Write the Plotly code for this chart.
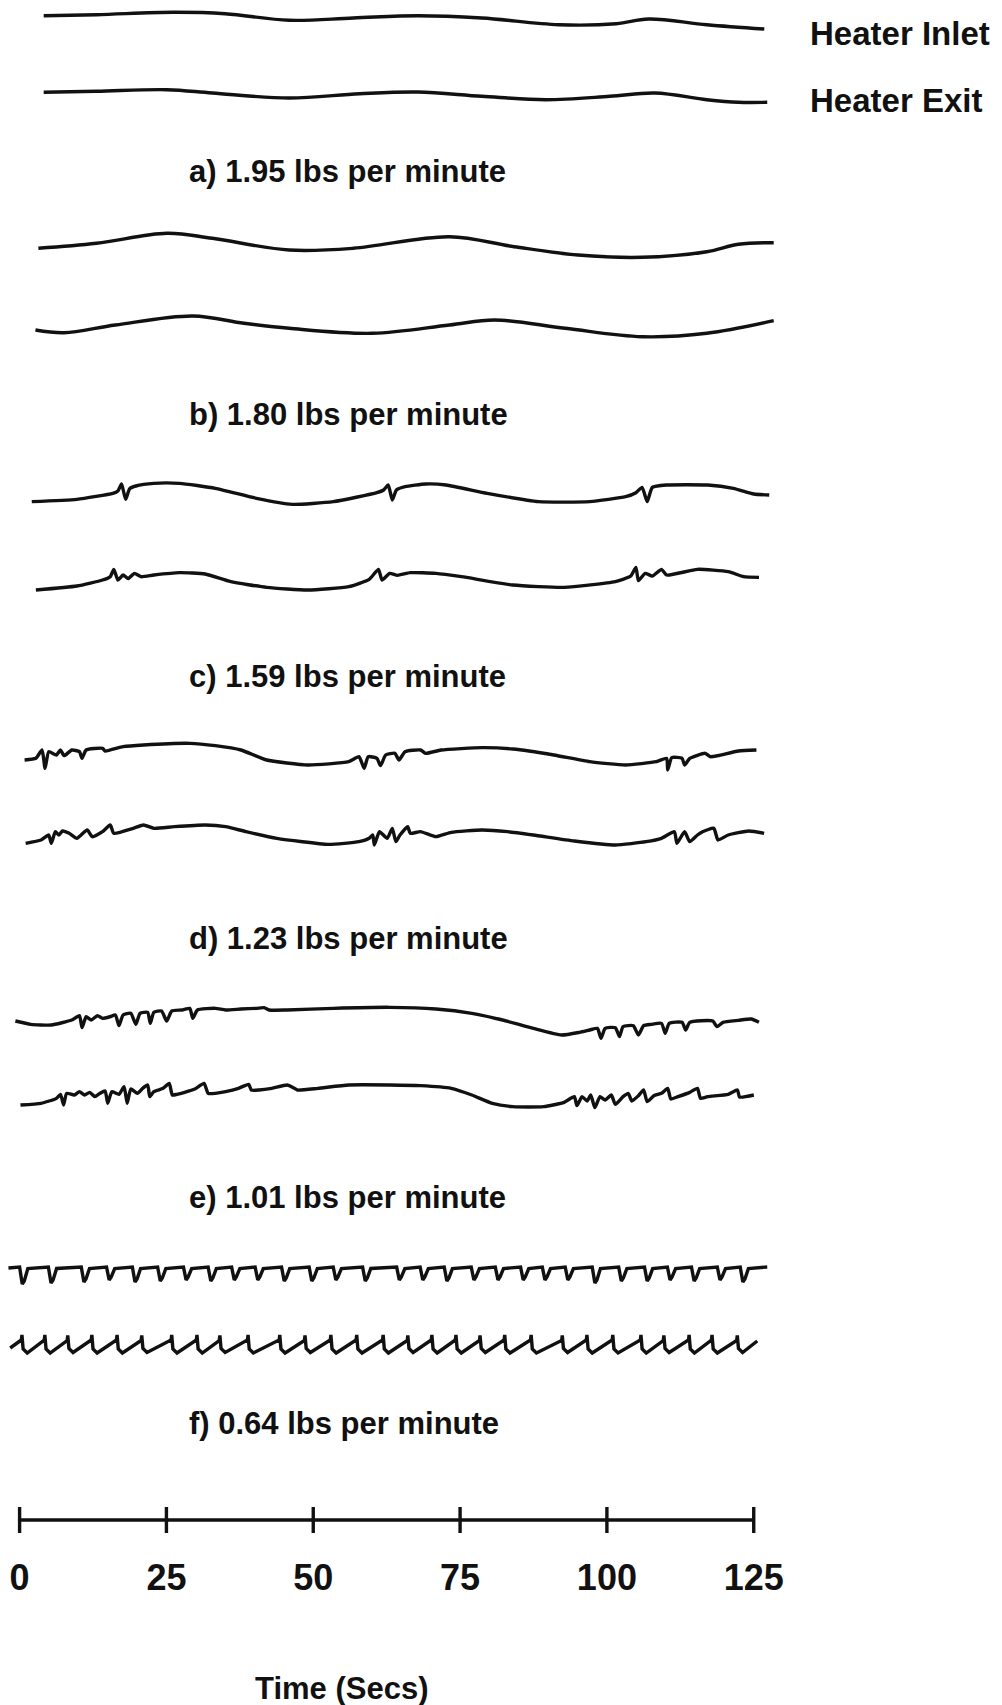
import plotly.graph_objects as go

# ---------------- data (time in seconds, deflection in chart units) ----------------
a1_t = [4.1, 13.1, 26.2, 35.0, 45.9, 56.8, 67.8, 78.7, 91.8, 101.6, 107.1, 117.0, 126.8]
a1_v = [5.3, 6.3, 8.7, 7.3, 0.7, 3.0, 5.3, 3.0, -3.7, -2.7, 2.0, -3.7, -8.0]
a2_t = [4.1, 13.1, 25.1, 32.8, 45.9, 57.9, 67.8, 78.7, 89.6, 100.5, 108.2, 117.0, 122.4, 127.3]
a2_v = [2.7, 3.7, 5.3, 2.0, -3.0, 1.3, 3.0, -1.3, -4.7, -1.3, 2.0, -4.7, -7.3, -7.3]

b1_t = [3.2, 13.1, 25.1, 32.8, 45.9, 56.8, 73.2, 84.2, 95.1, 106.0, 117.0, 122.4, 128.4]
b1_v = [-3.3, 1.7, 11.7, 6.7, -5.0, -3.3, 8.3, -1.7, -10.0, -12.3, -6.7, 0.7, 2.3]
b2_t = [2.7, 7.6, 16.3, 29.5, 38.2, 45.9, 60.1, 73.2, 80.9, 92.9, 106.0, 117.0, 128.4]
b2_v = [-4.0, -6.7, 1.0, 10.0, 2.7, -2.3, -7.3, 1.0, 6.0, -2.3, -10.7, -7.3, 5.3]

c1_t = [2.07, 9.76, 15.87, 16.74, 17.36, 18.05, 18.75, 19.80, 22.86, 27.22, 33.33, 40.32, 46.43,
        53.42, 60.84, 61.98, 62.76, 63.46, 64.16, 65.64, 69.14, 72.63, 79.61, 88.35, 97.08, 103.19,
        104.94, 105.99, 106.86, 107.73, 110.18, 117.16, 121.53, 125.02, 127.64]
c1_v = [-8.67, -6.33, -0.33, 2.0, 9.0, -6.33, 4.33, 7.0, 9.67, 9.67, 4.67, -5.33, -11.33,
        -8.67, 0.33, 3.0, 8.0, -7.0, 3.0, 6.33, 9.0, 8.0, -0.33, -8.67, -8.67, -3.67,
        0.33, 5.67, -8.67, 5.67, 8.0, 8.0, 4.67, -1.0, -2.0]
c2_t = [2.77, 9.76, 14.12, 15.43, 16.05, 16.74, 17.62, 18.49, 19.54, 20.67, 22.86, 27.22, 31.59,
        35.95, 42.07, 49.05, 56.04, 59.53, 61.10, 61.71, 63.02, 64.33, 66.52, 70.88, 75.25, 83.98,
        92.71, 101.44, 104.06, 104.94, 105.37, 106.51, 107.73, 109.30, 110.18, 115.42, 120.66,
        123.28, 125.90]
c2_v = [-11.0, -7.0, -1.0, 2.33, 9.67, -1.0, 4.0, 0.33, 5.67, 2.33, 4.0, 6.33, 5.0,
        -2.67, -8.33, -11.0, -7.67, -0.33, 9.67, -1.0, 5.67, 3.67, 6.33, 5.67, 2.33, -6.0,
        -8.33, -2.67, 3.0, 11.67, -1.67, 5.67, 3.0, 9.67, 4.0, 9.67, 7.33, 2.33, 1.67]

d1_t = [0.85, 2.77, 3.82, 4.34, 4.96, 6.27, 6.96, 7.58, 8.88, 10.19, 10.63, 11.33, 14.12, 14.56,
        17.62, 21.11, 28.97, 33.33, 37.70, 42.07, 49.05, 56.04, 57.79, 58.66, 59.36, 60.84, 61.45,
        62.33, 63.90, 64.60, 65.64, 68.26, 69.14, 71.76, 78.74, 83.98, 90.97, 97.08, 103.19,
        108.43, 110.18, 110.35, 111.05, 112.80, 113.23, 114.11, 116.73, 117.60, 118.91, 122.40,
        125.46]
d1_v = [-3.0, -1.33, 7.0, -11.33, 5.33, 2.0, 7.0, 1.33, 7.0, 5.33, -1.33, 7.0, 8.67, 6.0,
        10.33, 12.0, 13.67, 11.33, 7.0, -3.0, -8.0, -4.67, 0.33, -11.33, 0.33, -1.33, -8.67,
        2.0, 3.67, -3.0, 5.33, 7.0, 3.67, 7.0, 9.33, 8.0, 2.0, -4.67, -8.0,
        -4.67, -1.33, -13.0, -0.67, -1.33, -8.0, -1.33, 3.67, 0.33, 1.33, 6.0,
        7.0]
d2_t = [1.03, 3.65, 4.96, 5.39, 6.09, 6.70, 7.31, 8.45, 9.76, 11.50, 12.38, 14.12, 15.43, 16.05,
        19.36, 21.11, 22.86, 26.35, 31.59, 35.08, 38.57, 43.81, 52.55, 57.79, 59.53, 60.14, 60.40,
        61.28, 62.59, 63.46, 64.07, 64.77, 66.08, 66.52, 68.26, 70.88, 73.50, 78.74, 83.11, 87.47,
        94.46, 101.44, 106.68, 109.30, 111.49, 111.92, 113.23, 114.11, 115.42, 116.29, 118.21,
        118.91, 120.66, 124.15, 126.77]
d2_v = [-8.33, -5.0, 0.0, -8.33, 3.33, 0.0, 4.0, 1.67, -3.33, 5.0, -1.67, 3.33, 10.0, 1.67,
        6.67, 10.0, 6.67, 8.33, 10.0, 8.33, 3.33, -3.33, -9.33, -6.67, -3.33, 0.0, -10.0,
        3.33, -3.33, 6.67, -6.67, 0.0, 8.33, 1.67, 3.33, -1.67, 2.67, 5.0, 3.33, 0.0,
        -6.0, -10.0, -6.67, -3.33, 3.33, -8.33, 3.33, -6.67, 0.0, 3.33, 6.67,
        -5.0, 0.0, 4.0, 1.67]

e1_t = [-0.72, 1.90, 5.39, 8.88, 10.19, 10.63, 11.33, 12.20, 13.25, 14.12, 15.43, 16.31, 16.92,
        17.62, 18.93, 19.80, 20.50, 21.81, 22.25, 22.86, 24.17, 25.04, 25.91, 27.66, 28.97, 29.49,
        30.28, 33.33, 35.08, 37.70, 40.32, 41.63, 42.50, 45.56, 53.42, 63.02, 70.88, 77.00, 82.23,
        87.47, 92.28, 95.33, 97.08, 98.39, 99.00, 99.70, 101.44, 102.14, 102.75, 104.50, 105.37,
        106.25, 107.56, 109.30, 109.92, 110.61, 112.80, 113.41, 114.11, 118.04, 118.73, 119.78,
        122.40, 124.58, 125.89]
e1_v = [1.0, -2.33, -3.0, 2.0, 6.33, -5.67, 5.33, 2.0, 6.33, 3.67, 5.33, 7.0, -3.67,
        7.0, 8.67, -2.33, 8.67, 9.67, -1.33, 9.67, 11.0, 1.0, 11.0, 12.0, 13.67, 3.67,
        12.0, 13.67, 12.0, 13.0, 13.67, 14.33, 12.0, 12.0, 13.67, 14.67, 13.0, 8.67, 2.0,
        -6.33, -13.0, -10.33, -8.0, -6.33, -16.33, -6.33, -5.67, -14.67, -4.67, -3.67, -13.0,
        -3.67, -2.33, -1.33, -11.33, -1.33, -0.33, -8.0, -0.33, 1.0, -4.67, -0.33,
        1.67, 3.0, -0.33]
e2_t = [0.15, 3.65, 6.27, 6.96, 7.49, 8.01, 9.32, 10.19, 11.07, 11.94, 12.81, 13.69, 14.56, 15.00,
        15.70, 16.92, 17.79, 18.32, 18.93, 20.06, 20.94, 21.81, 22.16, 22.86, 24.43, 25.48, 26.00,
        26.79, 28.10, 29.84, 31.41, 32.11, 33.33, 35.08, 37.26, 39.01, 39.45, 40.76, 42.94, 45.56,
        46.61, 47.31, 50.80, 56.04, 63.02, 68.26, 73.50, 77.00, 80.49, 83.98, 89.22, 92.71, 94.46,
        94.89, 95.77, 96.64, 97.25, 97.95, 98.83, 99.70, 100.75, 101.44, 102.75, 103.63, 104.24,
        105.37, 106.25, 106.86, 107.99, 109.30, 110.35, 110.88, 112.10, 114.11, 115.42, 115.94,
        117.16, 120.66, 122.23, 122.58, 125.02]
e2_v = [-10.0, -8.33, -3.33, 0.67, -10.0, 1.67, 0.0, 3.33, 0.0, 2.67, -1.67, 1.67, 4.0, -8.33,
        3.33, 0.67, 8.33, -8.33, 6.0, 1.67, 6.67, 10.0, -1.67, 3.33, 6.67, 11.67, 0.0,
        0.67, 2.67, 6.0, 11.67, 1.67, 1.67, 3.33, 6.67, 10.67, 5.0, 5.0, 6.67, 10.0,
        7.33, 5.0, 6.67, 10.0, 10.0, 9.33, 6.67, 0.0, -8.33, -11.67, -11.67, -7.33, -1.67,
        -10.67, -1.67, -6.0, 0.0, -12.67, -1.67, -5.0, 0.0, -9.33, -1.67, 1.67, -6.0,
        -0.67, 5.0, -6.67, -0.67, 1.67, 6.67, -4.0, -1.67, 2.67, 6.67, -3.33,
        -1.67, 0.67, 5.0, -2.0, 0.0]

# f) regular oscillation: times of each inlet notch / exit spike
f1_span = [-1.9, 127.3]
f1_notch_t = [0.1, 5.0, 10.6, 14.9, 19.3, 23.6, 28.0, 32.2, 36.2, 40.2, 44.7, 49.4, 53.5, 58.5,
              64.3, 68.3, 72.4, 77.0, 81.1, 85.4, 89.1, 93.0, 97.6, 102.1, 106.5, 110.4, 114.5,
              118.9, 122.8]
f1_notch_depth = [17, 16, 15, 13, 15, 14, 13, 14, 13, 13, 14, 14, 13, 14, 13, 13, 14, 13, 13, 13,
                  13, 13, 16, 14, 14, 13, 14, 13, 15]
f2_span = [-1.6, 125.6]
f2_spike_t = [0.4, 4.3, 8.2, 12.3, 16.6, 20.8, 25.9, 30.2, 34.1, 38.9, 44.3, 48.6, 53.0, 57.4,
              61.9, 66.1, 70.2, 74.3, 78.4, 82.6, 87.1, 92.4, 96.6, 101.0, 105.8, 109.7, 114.0,
              117.9, 122.2]
f2_spike_height = [18, 18, 17, 18, 18, 17, 18, 18, 17, 18, 18, 17, 18, 18, 18, 17, 18, 18, 17, 18,
                   18, 17, 18, 18, 18, 17, 18, 18, 17]

panel_labels = ["a) 1.95 lbs per minute", "b) 1.80 lbs per minute", "c) 1.59 lbs per minute",
                "d) 1.23 lbs per minute", "e) 1.01 lbs per minute", "f) 0.64 lbs per minute"]
series_labels = ["Heater Inlet", "Heater Exit"]
time_ticks = [0, 25, 50, 75, 100, 125]
time_title = "Time (Secs)"


def notch_wave(span, notch_t, depth):
    xs, ys = [span[0]], [4.0]
    for t, d in zip(notch_t, depth):
        xs += [t - 0.1, t + 0.35, t + 0.7, t + 1.3]
        ys += [5.0, 5.0 - d, 8.0 - d, 3.5]
    xs.append(span[1]); ys.append(5.0)
    return xs, ys


def saw_wave(span, spike_t, height):
    xs, ys = [span[0]], [-4.0]
    for t, h in zip(spike_t, height):
        xs += [t - 0.1, t, t + 0.2, t + 0.9]
        ys += [h / 2 - 5, h / 2, -h / 2 + 4, -h / 2]
    xs.append(span[1]); ys.append(3.0)
    return xs, ys


f1_t, f1_v = notch_wave(f1_span, f1_notch_t, f1_notch_depth)
f2_t, f2_v = saw_wave(f2_span, f2_spike_t, f2_spike_height)

# ---------------- layout ----------------
W, H = 1002, 1705
T0_PX, PX_PER_S = 19.6, 5.873
X_RANGE = [-T0_PX / PX_PER_S, (W - T0_PX) / PX_PER_S]
FONT = "Liberation Sans, Arial, Helvetica, sans-serif"
INK = "#111111"
LW = 3.4
R = 18

# (times, values, baseline position in px from top, line shape, smoothing)
series = [
    (a1_t, a1_v, 21, "spline", 1.0), (a2_t, a2_v, 95, "spline", 1.0),
    (b1_t, b1_v, 245, "spline", 1.0), (b2_t, b2_v, 326, "spline", 1.0),
    (c1_t, c1_v, 493, "spline", 0.5), (c2_t, c2_v, 579, "spline", 0.5),
    (d1_t, d1_v, 757, "spline", 0.5), (d2_t, d2_v, 835, "spline", 0.5),
    (e1_t, e1_v, 1022, "spline", 0.5), (e2_t, e2_v, 1095, "spline", 0.5),
    (f1_t, f1_v, 1272, "linear", 0), (f2_t, f2_v, 1344, "linear", 0),
]

fig = go.Figure()
layout = dict(
    width=W, height=H, margin=dict(l=0, r=0, t=0, b=0),
    paper_bgcolor="white", plot_bgcolor="white", showlegend=False,
    xaxis=dict(domain=[0, 1], range=X_RANGE, visible=False, fixedrange=True),
)

for i, (ts, vs, center, shape, smooth) in enumerate(series):
    k = i + 1
    yname = "y" if k == 1 else f"y{k}"
    line = dict(color=INK, width=LW, shape=shape)
    if shape == "spline":
        line["smoothing"] = smooth
    fig.add_trace(go.Scatter(x=ts, y=vs, mode="lines", line=line, xaxis="x", yaxis=yname,
                             hoverinfo="skip"))
    lo = max(0.0, 1 - (center + R) / H)
    hi = min(1.0, 1 - (center - R) / H)
    mid_px = (1 - (hi + lo) / 2) * H
    half = (hi - lo) * H / 2
    layout["yaxis" if k == 1 else f"yaxis{k}"] = dict(
        domain=[lo, hi], range=[center - mid_px - half, center - mid_px + half],
        visible=False, fixedrange=True)

# time scale bar
BAR_PX, TICK_HALF = 1520, 13
fig.add_trace(go.Scatter(
    x=time_ticks, y=[0] * len(time_ticks), mode="lines+markers", xaxis="x2", yaxis="y13",
    line=dict(color=INK, width=LW),
    marker=dict(symbol="line-ns", size=2 * TICK_HALF, line=dict(color=INK, width=LW)),
    hoverinfo="skip"))
layout["yaxis13"] = dict(domain=[1 - (BAR_PX + TICK_HALF) / H, 1 - (BAR_PX - TICK_HALF) / H],
                         range=[-TICK_HALF, TICK_HALF], visible=False, fixedrange=True)
layout["xaxis2"] = dict(domain=[0, 1], range=X_RANGE, anchor="y13", showline=False,
                        showgrid=False, zeroline=False, ticks="", tickvals=time_ticks,
                        ticktext=[str(v) for v in time_ticks], ticklabelstandoff=20,
                        tickfont=dict(family=FONT, size=36, color=INK, weight="bold"),
                        fixedrange=True)

LABEL_SIZE = 31
ann = []
label_y_px = [171, 414, 676, 938, 1197, 1423]
for txt, ypx in zip(panel_labels, label_y_px):
    ann.append(dict(text=txt, x=187 / W, y=1 - ypx / H, xref="paper", yref="paper",
                    xanchor="left", yanchor="middle", showarrow=False,
                    font=dict(family=FONT, size=LABEL_SIZE, color=INK, weight="bold")))
for txt, ypx in zip(series_labels, [33, 101]):
    ann.append(dict(text=txt, x=808 / W, y=1 - ypx / H, xref="paper", yref="paper",
                    xanchor="left", yanchor="middle", showarrow=False,
                    font=dict(family=FONT, size=33, color=INK, weight="bold")))
ann.append(dict(text=time_title, x=341 / W, y=1 - 1688 / H, xref="paper", yref="paper",
                xanchor="center", yanchor="middle", showarrow=False,
                font=dict(family=FONT, size=LABEL_SIZE, color=INK, weight="bold")))
layout["annotations"] = ann

fig.update_layout(**layout)
fig.write_html("out.html", config={"displayModeBar": False, "staticPlot": True},
               post_script="document.body.style.margin='0';document.body.style.overflow='hidden';")
